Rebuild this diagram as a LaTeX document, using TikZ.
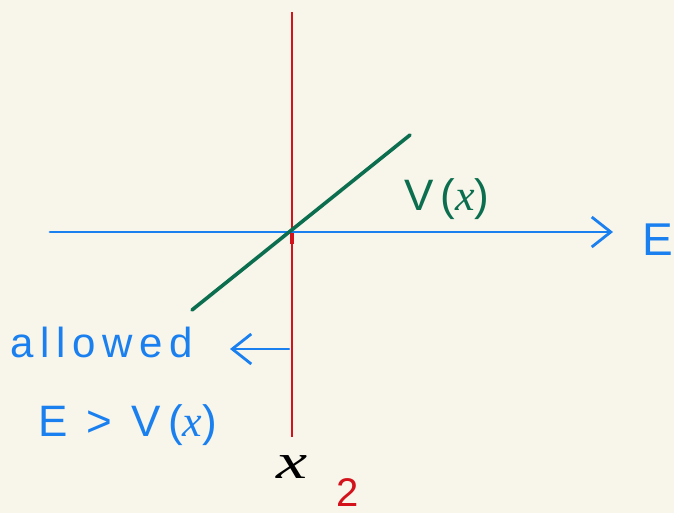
\documentclass[tikz,border=0pt]{standalone}
\usepackage{fontspec}
\setmainfont{Liberation Sans}
\newfontfamily\spacedfont[LetterSpace=16]{Liberation Sans}
\newfontfamily\xfont{Liberation Serif}
\newcommand{\hx}{{\xfont\itshape x}}
\usetikzlibrary{arrows.meta}
\definecolor{bgc}{HTML}{F8F5EA}
\definecolor{axblue}{HTML}{1A80F0}
\definecolor{vred}{HTML}{D3121B}
\definecolor{vgreen}{HTML}{0B6E4F}
\tikzset{
  axisline/.style={draw=axblue, line width=2.8pt, line cap=round},
  hand/.style={inner sep=0pt, anchor=base west},
  barb/.style={-{Straight Barb[length=19pt,width=30pt,line width=2.8pt]}},
}
\begin{document}
\begin{tikzpicture}[x=1pt,y=-1pt]
\fill[bgc] (0,0) rectangle (674,513);
\useasboundingbox (0,0) rectangle (674,513);
% coordinates
\coordinate (vtop) at (292,12);
\coordinate (vbot) at (292,437);
\coordinate (hl) at (50,232);
\coordinate (hr) at (613,232);
\coordinate (gl) at (192,310);
\coordinate (gr) at (410,135);
\coordinate (arrs) at (289,349);
\coordinate (arre) at (230,349);
% red line
\draw[vred, line width=2.4pt] (vtop) -- (vbot);
% blue axis
\draw[axisline, barb] (hl) -- (hr);
% green line
\draw[vgreen, line width=3.6pt, line cap=round] (gl) -- (gr);
% small red tick at origin
\draw[vred, line width=3.6pt] (292,233) -- (292,244);
% labels
\node[hand, text=axblue, font=\fontsize{46}{46}\selectfont] (E) at (642,255) {E};
\node[hand, text=vgreen, font=\spacedfont\fontsize{44}{44}\selectfont] (V) at (404,211) {V(\hx)};
\node[hand, text=axblue, font=\spacedfont\fontsize{42}{42}\selectfont] (allowed) at (10,357) {allowed};
\node[hand, text=axblue, font=\spacedfont\fontsize{44}{44}\selectfont] (cond) at (38,436) {E > V(\hx)};
\draw[axisline, barb] (arrs) -- (arre);
\node[hand, font=\xfont\itshape\fontsize{50}{50}\selectfont] (x) at (276,478) {\scalebox{1.4}[1]{x}};
\node[hand, text=vred, font=\fontsize{40}{40}\selectfont] (two) at (336,506) {2};
\end{tikzpicture}
\end{document}
